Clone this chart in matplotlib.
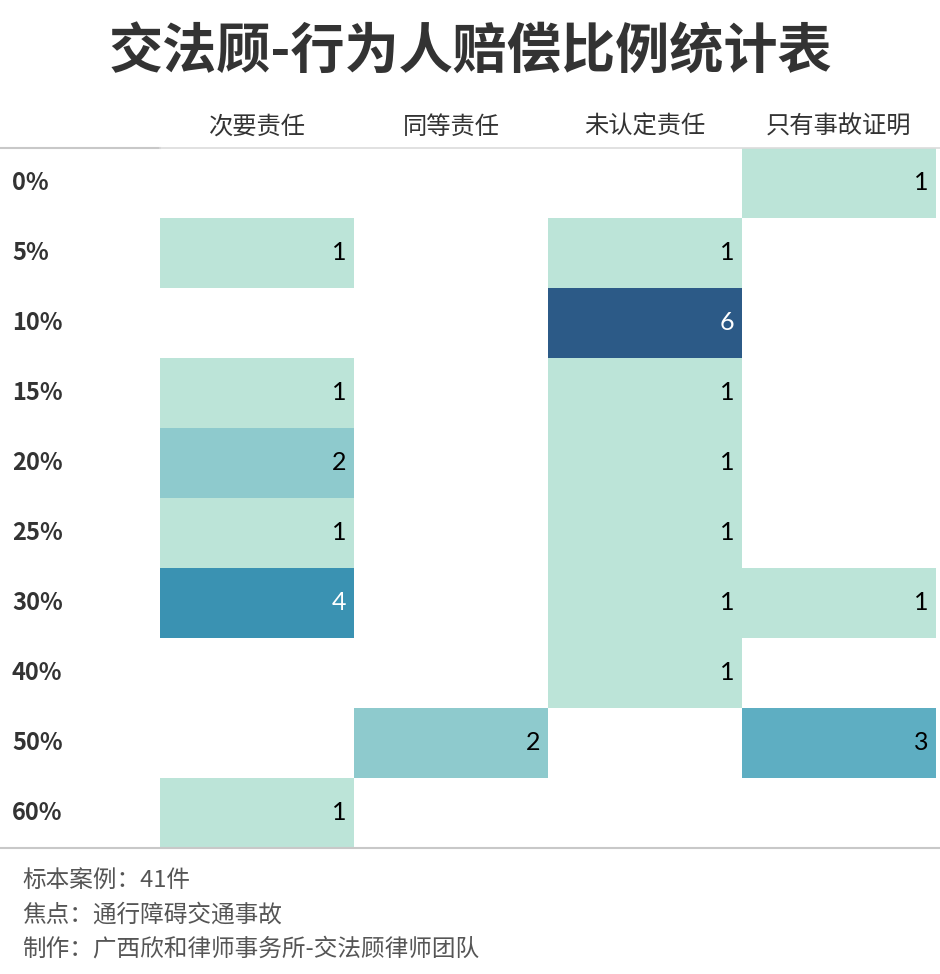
import matplotlib.pyplot as plt
import numpy as np
from matplotlib.colors import ListedColormap, BoundaryNorm
from matplotlib import transforms
from matplotlib.lines import Line2D

plt.rcParams['font.family'] = ['Noto Sans CJK SC', 'DejaVu Sans']

rows = ['0%', '5%', '10%', '15%', '20%', '25%', '30%', '40%', '50%', '60%']
cols = ['次要责任', '同等责任', '未认定责任', '只有事故证明']

minor = [0, 1, 0, 1, 2, 1, 4, 0, 0, 1]
equal = [0, 0, 0, 0, 0, 0, 0, 0, 2, 0]
undetermined = [0, 1, 6, 1, 1, 1, 1, 1, 0, 0]
proof_only = [1, 0, 0, 0, 0, 0, 1, 0, 3, 0]

title = '交法顾-行为人赔偿比例统计表'
notes = ['标本案例：41件', '焦点：通行障碍交通事故', '制作：广西欣和律师事务所-交法顾律师团队']

W, H = 940, 974
fig = plt.figure(figsize=(W / 100, H / 100), dpi=100)

# grid area in pixels
x0, x1 = 160, 936
y0, y1 = 148, 848
ax = fig.add_axes([x0 / W, 1 - y1 / H, (x1 - x0) / W, (y1 - y0) / H])

data = np.array([minor, equal, undetermined, proof_only]).T
masked = np.ma.masked_equal(data, 0)

colors = ['#bce4d8', '#8ecacd', '#5eaec2', '#3a92b2', '#335f8f', '#2c5a87']
cmap = ListedColormap(colors)
norm = BoundaryNorm(np.arange(0.5, 7.5, 1), cmap.N)

ax.pcolormesh(np.arange(len(cols) + 1), np.arange(len(rows) + 1), masked,
              cmap=cmap, norm=norm)
ax.set_xlim(0, len(cols))
ax.set_ylim(len(rows), 0)
ax.axis('off')

for i in range(len(rows)):
    for j in range(len(cols)):
        v = data[i, j]
        if v == 0:
            continue
        c = 'white' if v >= 4 else 'black'
        ax.text(j + 1 - 0.04, i + 0.5, str(v), ha='right', va='center',
                fontsize=18, color=c, family=['Lato', 'DejaVu Sans'])

# row labels
tr = transforms.blended_transform_factory(fig.transFigure, ax.transData)
for i, r in enumerate(rows):
    fig.text(12 / W, i + 0.5, r, transform=tr, ha='left', va='center',
             fontsize=17, fontweight='bold', color='#333333')

# column headers
for j, c in enumerate(cols):
    cx = (x0 + (j + 0.5) * (x1 - x0) / len(cols)) / W
    fig.text(cx, 1 - 127 / H, c, ha='center', va='center',
             fontsize=17.5, color='#333333')

fig.text(0.5, 1 - 52 / H, title, ha='center', va='center',
         fontsize=39, fontweight='bold', color='#333333')

# separator lines
fig.add_artist(Line2D([0, x0 / W], [1 - y0 / H] * 2, color='#c8c8c8', lw=1.5))
fig.add_artist(Line2D([x0 / W, 1], [1 - y0 / H] * 2, color='#dcdcdc', lw=1.2))
fig.add_artist(Line2D([0, 1], [1 - y1 / H] * 2, color='#c8c8c8', lw=1.5))

for k, n in enumerate(notes):
    fig.text(22 / W, 1 - (881 + k * 34) / H, n, ha='left', va='center',
             fontsize=17, color='#555555')

fig.savefig('out.png', dpi=100)
